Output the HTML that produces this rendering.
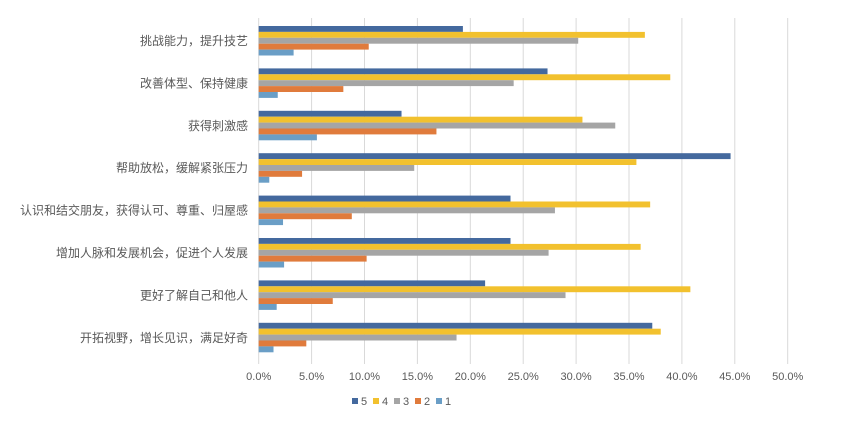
<!DOCTYPE html>
<html><head><meta charset="utf-8"><style>
html,body{margin:0;padding:0;background:#fff;}
svg{display:block;font-family:"Liberation Sans","Noto Sans CJK SC",sans-serif;}
</style></head><body>
<svg width="856" height="424" viewBox="0 0 856 424" xmlns="http://www.w3.org/2000/svg">
<rect width="856" height="424" fill="#fff"/>
<g stroke="#d9d9d9" stroke-width="1">
<line x1="258.7" y1="18" x2="258.7" y2="364"/>
<line x1="311.6" y1="18" x2="311.6" y2="364"/>
<line x1="364.5" y1="18" x2="364.5" y2="364"/>
<line x1="417.4" y1="18" x2="417.4" y2="364"/>
<line x1="470.3" y1="18" x2="470.3" y2="364"/>
<line x1="523.2" y1="18" x2="523.2" y2="364"/>
<line x1="576.1" y1="18" x2="576.1" y2="364"/>
<line x1="629" y1="18" x2="629" y2="364"/>
<line x1="681.9" y1="18" x2="681.9" y2="364"/>
<line x1="734.8" y1="18" x2="734.8" y2="364"/>
<line x1="787.7" y1="18" x2="787.7" y2="364"/>
</g>
<g id="bars"></g>
<g font-size="12" fill="#595959" text-anchor="end" id="labels"></g>
<g font-size="11" fill="#595959" text-anchor="middle">
<text x="258.7" y="380">0.0%</text><text x="311.6" y="380">5.0%</text><text x="364.5" y="380">10.0%</text><text x="417.4" y="380">15.0%</text><text x="470.3" y="380">20.0%</text><text x="523.2" y="380">25.0%</text><text x="576.1" y="380">30.0%</text><text x="629" y="380">35.0%</text><text x="681.9" y="380">40.0%</text><text x="734.8" y="380">45.0%</text><text x="787.7" y="380">50.0%</text>
</g>
<g font-size="11" fill="#595959">
<rect x="352" y="398" width="6" height="6" fill="#44699e"/><text x="361" y="405">5</text>
<rect x="373" y="398" width="6" height="6" fill="#f2c12e"/><text x="382" y="405">4</text>
<rect x="394" y="398" width="6" height="6" fill="#a5a5a5"/><text x="403" y="405">3</text>
<rect x="415" y="398" width="6" height="6" fill="#e07b3c"/><text x="424" y="405">2</text>
<rect x="436" y="398" width="6" height="6" fill="#6a9ec6"/><text x="445" y="405">1</text>
</g>
</svg>
<script>
var data=[
["挑战能力，提升技艺",[19.3,36.5,30.2,10.4,3.3]],
["改善体型、保持健康",[27.3,38.9,24.1,8.0,1.8]],
["获得刺激感",[13.5,30.6,33.7,16.8,5.5]],
["帮助放松，缓解紧张压力",[44.6,35.7,14.7,4.1,1.0]],
["认识和结交朋友，获得认可、尊重、归屋感",[23.8,37.0,28.0,8.8,2.3]],
["增加人脉和发展机会，促进个人发展",[23.8,36.1,27.4,10.2,2.4]],
["更好了解自己和他人",[21.4,40.8,29.0,7.0,1.7]],
["开拓视野，增长见识，满足好奇",[37.2,38.0,18.7,4.5,1.4]]];
var cols=["#44699e","#f2c12e","#a5a5a5","#e07b3c","#6a9ec6"];
var ns="http://www.w3.org/2000/svg",b=document.getElementById("bars"),l=document.getElementById("labels");
data.forEach(function(d,i){var top=26+i*42.4;
d[1].forEach(function(v,j){var r=document.createElementNS(ns,"rect");r.setAttribute("x",258.7);r.setAttribute("y",top+j*5.9);r.setAttribute("width",v*10.58);r.setAttribute("height",5.9);r.setAttribute("fill",cols[j]);b.appendChild(r);});
var t=document.createElementNS(ns,"text");t.setAttribute("x",248);t.setAttribute("y",top+19);t.textContent=d[0];l.appendChild(t);});
</script>
</body></html>
